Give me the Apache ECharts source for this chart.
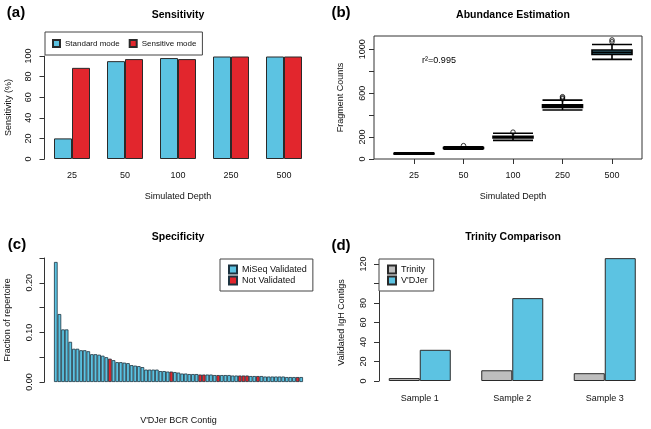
<!DOCTYPE html>
<html><head><meta charset="utf-8">
<script src="https://cdn.jsdelivr.net/npm/echarts@6/dist/echarts.min.js"></script>
<style>html,body{margin:0;padding:0;background:#fff}#c{width:651px;height:429px}</style>
</head><body><div id="c"></div>
<script>
// ---------- data ----------
const depths = ['25', '50', '100', '250', '500'];
const standardMode = [20, 95, 98, 99.5, 99.5];
const sensitiveMode = [88.5, 97, 97, 99.5, 99.5];

// boxplot stats: [lower whisker, Q1, median, Q3, upper whisker]
const abundanceBoxes = [
  [44, 47, 50, 53, 57],
  [90, 96, 100, 104, 112],
  [170, 191, 200, 208, 234],
  [447, 470, 482, 494, 537],
  [908, 952, 972, 993, 1043]
];
// outliers: [depth index, value]
const abundanceOutliers = [[1, 122], [2, 245], [3, 548], [3, 557], [3, 568], [4, 1068], [4, 1085]];

const specFractions = [
  0.242, 0.137, 0.106, 0.106, 0.081, 0.067, 0.067, 0.064, 0.064, 0.062,
  0.056, 0.056, 0.055, 0.053, 0.050, 0.047, 0.044, 0.040, 0.040, 0.039,
  0.038, 0.034, 0.033, 0.032, 0.030, 0.025, 0.025, 0.025, 0.025, 0.022,
  0.022, 0.021, 0.021, 0.020, 0.019, 0.017, 0.017, 0.016, 0.016, 0.016,
  0.015, 0.015, 0.015, 0.015, 0.014, 0.014, 0.014, 0.014, 0.014, 0.013,
  0.013, 0.013, 0.013, 0.013, 0.012, 0.012, 0.012, 0.012, 0.011, 0.011,
  0.011, 0.011, 0.011, 0.011, 0.010, 0.010, 0.010, 0.010, 0.010
];
const notValidatedIdx = [15, 32, 40, 41, 45, 51, 52, 53, 56, 67];

const samples = ['Sample 1', 'Sample 2', 'Sample 3'];
const trinityCounts = [3, 11, 8];
const vdjerCounts = [32, 85, 126];

const ticksB = [0, 200, 400, 600, 800, 1000];
const labelsB = [0, 200, 600, 1000];
const ticksC = [0, 0.05, 0.10, 0.15, 0.20, 0.25];
const labelsC = [0, 0.10, 0.20];
const ticksD = [0, 20, 40, 60, 80, 100, 120];
const labelsD = [0, 20, 40, 60, 80, 120];
const ticksA = [0, 20, 40, 60, 80, 100];

// ---------- style ----------
const FONT = '"Liberation Sans", Arial, Helvetica, sans-serif';
const BLUE = '#5cc3e2', RED = '#e2262d', GRAY = '#bebebe', EDGE = '#2a2a2a';
const txt = { fontSize: 9, color: '#111', fontFamily: FONT };

function has(list, v) { return list.some(l => Math.abs(l - v) < 1e-9); }

function yAxis(gi, max, ticks, labels, dec, name, nameGap, margin, offset, showLine) {
  return {
    type: 'value', gridIndex: gi, min: 0, max: max, offset: offset,
    name: name, nameLocation: 'middle', nameRotate: 90, nameGap: nameGap,
    nameTextStyle: Object.assign({}, txt),
    axisLine: { show: showLine, lineStyle: { color: '#333', width: 1 } },
    axisTick: { show: true, inside: false, length: 5, lineStyle: { color: '#333' }, customValues: ticks },
    axisLabel: Object.assign({ rotate: 90, margin: margin, customValues: labels,
      formatter: v => has(labels, v) ? v.toFixed(dec) : '' }, txt),
    splitLine: { show: false }
  };
}

const chart = echarts.init(document.getElementById('c'), null, { renderer: 'canvas' });

const specIdx = specFractions.map((_, i) => String(i + 1));
const validatedData = specFractions.map((v, i) => notValidatedIdx.includes(i) ? '-' : v);
const notValidatedData = specFractions.map((v, i) => notValidatedIdx.includes(i) ? v : '-');

function gText(text, x, y, size, bold, rot) {
  const font = (bold ? 'bold ' : '') + size + 'px ' + FONT;
  return { type: 'text', x: x, y: y, rotation: rot || 0, z: 100,
    style: { text: text, font: font, fill: '#000', align: 'center', verticalAlign: 'middle',
      textAlign: 'center', textVerticalAlign: 'middle' } };
}

const option = {
  animation: false,
  backgroundColor: '#fff',
  textStyle: { fontFamily: FONT },
  grid: [
    { left: 45.5, width: 265, top: 56, height: 103 },               // (a)
    { left: 389.25, width: 247.5, top: 36, height: 123 },          // (b) data
    { left: 374, width: 268, top: 36, height: 123, show: true,     // (b) frame
      borderColor: '#333', borderWidth: 1, backgroundColor: 'transparent', z: 5 },
    { left: 54, width: 249, top: 258, height: 124 },               // (c)
    { left: 373.5, width: 279, top: 264, height: 117 }             // (d)
  ],
  xAxis: [
    { type: 'category', gridIndex: 0, data: depths,
      axisLine: { show: false }, axisTick: { show: false },
      axisLabel: Object.assign({ margin: 12 }, txt),
      name: 'Simulated Depth', nameLocation: 'middle', nameGap: 33.5, nameTextStyle: Object.assign({}, txt) },
    { type: 'category', gridIndex: 1, data: depths,
      axisLine: { show: false },
      axisTick: { show: true, alignWithLabel: true, length: 5, lineStyle: { color: '#333' } },
      axisLabel: Object.assign({ margin: 12.5 }, txt),
      name: 'Simulated Depth', nameLocation: 'middle', nameGap: 33.5, nameTextStyle: Object.assign({}, txt) },
    { type: 'value', gridIndex: 2, show: false },
    { type: 'category', gridIndex: 3, data: specIdx,
      axisLine: { show: false }, axisTick: { show: false }, axisLabel: { show: false },
      name: "V'DJer BCR Contig", nameLocation: 'middle', nameGap: 34.5, nameTextStyle: Object.assign({}, txt) },
    { type: 'category', gridIndex: 4, data: samples,
      axisLine: { show: false }, axisTick: { show: false },
      axisLabel: Object.assign({ margin: 13.5 }, txt) }
  ],
  yAxis: [
    yAxis(0, 100, ticksA, ticksA, 0, 'Sensitivity (%)', 31.5, 11, 1, true),
    yAxis(1, 1121, ticksB, labelsB, 0, 'Fragment Counts', 28.5, 7, 15.25, false),
    { type: 'value', gridIndex: 2, show: false },
    yAxis(3, 0.25, ticksC, labelsC, 2, 'Fraction of repertoire', 32.5, 10, 9.5, true),
    yAxis(4, 120, ticksD, labelsD, 0, 'Validated IgH Contigs', 33, 11, -5.5, true)
  ],
  legend: [
    { left: 45, top: 32, orient: 'horizontal', data: ['Standard mode', 'Sensitive mode'],
      icon: 'rect', itemWidth: 7, itemHeight: 7, itemGap: 9, padding: [6, 6, 6, 7],
      borderColor: '#444', borderWidth: 1, backgroundColor: '#fff',
      textStyle: { fontSize: 8, color: '#111', fontFamily: FONT, lineHeight: 11 }, selectedMode: false },
    { left: 220, top: 259, orient: 'vertical', data: ['MiSeq Validated', 'Not Validated'],
      icon: 'rect', itemWidth: 8, itemHeight: 8, itemGap: 0, padding: [5, 6, 5, 8],
      borderColor: '#444', borderWidth: 1, backgroundColor: '#fff',
      textStyle: { fontSize: 9, color: '#111', fontFamily: FONT, lineHeight: 11 }, selectedMode: false },
    { left: 379, top: 259, orient: 'vertical', data: ['Trinity', "V'DJer"],
      icon: 'rect', itemWidth: 8, itemHeight: 8, itemGap: 0, padding: [5, 6, 5, 8],
      borderColor: '#444', borderWidth: 1, backgroundColor: '#fff',
      textStyle: { fontSize: 9, color: '#111', fontFamily: FONT, lineHeight: 11 }, selectedMode: false }
  ],
  series: [
    { type: 'bar', name: 'Standard mode', xAxisIndex: 0, yAxisIndex: 0, data: standardMode,
      barWidth: 18, barGap: '0%', itemStyle: { color: BLUE, borderColor: EDGE, borderWidth: 1 } },
    { type: 'bar', name: 'Sensitive mode', xAxisIndex: 0, yAxisIndex: 0, data: sensitiveMode,
      barWidth: 18, barGap: '0%', itemStyle: { color: RED, borderColor: EDGE, borderWidth: 1 } },
    { type: 'boxplot', name: 'Abundance', xAxisIndex: 1, yAxisIndex: 1, data: abundanceBoxes,
      boxWidth: [40, 40], itemStyle: { color: '#3f7f93', borderColor: '#000', borderWidth: 1.6 } },
    { type: 'scatter', name: 'Outliers', xAxisIndex: 1, yAxisIndex: 1, data: abundanceOutliers,
      symbol: 'circle', symbolSize: 4.5,
      itemStyle: { color: 'rgba(255,255,255,0)', borderColor: '#000', borderWidth: 1 } },
    { type: 'bar', name: 'MiSeq Validated', xAxisIndex: 3, yAxisIndex: 3, data: validatedData,
      stack: 'spec', barCategoryGap: '0%', itemStyle: { color: BLUE, borderColor: '#1d3340', borderWidth: 0.8 } },
    { type: 'bar', name: 'Not Validated', xAxisIndex: 3, yAxisIndex: 3, data: notValidatedData,
      stack: 'spec', barCategoryGap: '0%', itemStyle: { color: RED, borderColor: '#1d3340', borderWidth: 0.8 } },
    { type: 'bar', name: 'Trinity', xAxisIndex: 4, yAxisIndex: 4, data: trinityCounts, clip: false,
      barWidth: 31, barGap: '0%', itemStyle: { color: GRAY, borderColor: EDGE, borderWidth: 1 } },
    { type: 'bar', name: "V'DJer", xAxisIndex: 4, yAxisIndex: 4, data: vdjerCounts, clip: false,
      barWidth: 31, barGap: '0%', itemStyle: { color: BLUE, borderColor: EDGE, borderWidth: 1 } }
  ],
  graphic: [
    gText('Sensitivity', 178, 15, 10.5, true),
    gText('Abundance Estimation', 513, 15, 10.5, true),
    gText('Specificity', 178, 237, 10.5, true),
    gText('Trinity Comparison', 513, 237, 10.5, true),
    gText('(a)', 16, 13, 15, true),
    gText('(b)', 341, 13, 15, true),
    gText('(c)', 17, 245, 15, true),
    gText('(d)', 341, 246, 15, true),
    gText('r\u00B2=0.995', 439, 61, 9, false)
  ]
};
chart.setOption(option);
</script>
</body></html>
